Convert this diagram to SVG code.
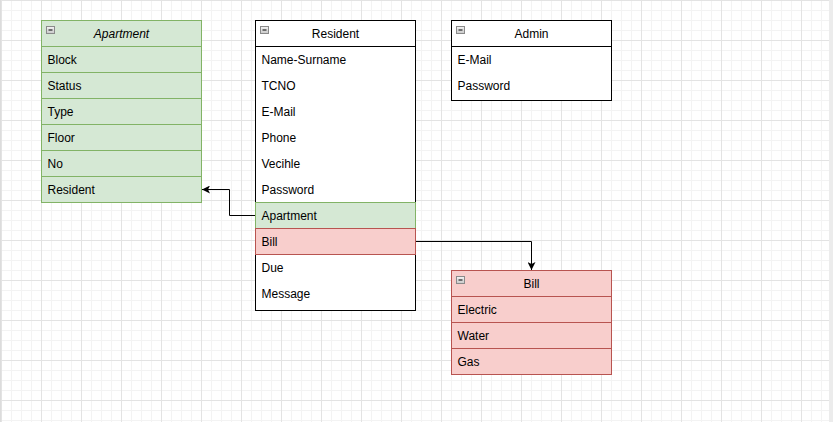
<svg xmlns="http://www.w3.org/2000/svg" width="833" height="422" viewBox="0 0 833 422">
<defs>
<pattern id="grid" patternUnits="userSpaceOnUse" x="1" y="0" width="40" height="40">
<path d="M0 10.5H40M0 20.5H40M0 30.5H40M10.5 0V40M20.5 0V40M30.5 0V40" stroke="#f3f3f3" stroke-width="1" fill="none"/>
<path d="M0 0.5H40M0.5 0V40" stroke="#e3e3e3" stroke-width="1" fill="none"/>
</pattern>
<linearGradient id="ig" x1="0" y1="0" x2="0" y2="1">
<stop offset="0" stop-color="#f4f4f4"/>
<stop offset="1" stop-color="#c8c8c8"/>
</linearGradient>
<marker id="arr" markerUnits="userSpaceOnUse" markerWidth="8" markerHeight="8" viewBox="0 0 8 8" refX="8" refY="4" orient="auto">
<path d="M0 0L8 4L0 8L2 4Z" fill="#000"/>
</marker>
<g id="icon">
<rect x="0.5" y="0.5" width="8" height="7" fill="url(#ig)" stroke="#8a8a8a"/>
<path d="M2.5 4H6.5" stroke="#222" stroke-width="1.2"/>
</g>
</defs>
<style>
text{font-family:"Liberation Sans",Arial,sans-serif;font-size:12px;fill:#000}
.h{text-anchor:middle}
.w{fill:#fff;stroke:#000;stroke-width:1}
.g{fill:#d5e8d4;stroke:#82b366;stroke-width:1}
.r{fill:#f8cecc;stroke:#b85450;stroke-width:1}
.c{fill:none;stroke:#000;stroke-width:1}
</style>
<rect width="833" height="422" fill="#fff"/>
<rect x="0" y="0" width="829" height="422" fill="url(#grid)"/>
<rect x="0" y="0" width="1" height="422" fill="#dcdcdc"/>
<rect x="829" y="0" width="4" height="422" fill="#ececec"/>

<g id="connectors">
<path class="c" d="M255.5 215.5H229.5V189.5H202" marker-end="url(#arr)"/>
<path class="c" d="M415.5 241.5H531.5V270" marker-end="url(#arr)"/>
</g>

<g id="apartment">
<rect class="g" x="41.5" y="20.5" width="160" height="182"/>
<rect class="g" x="41.5" y="46.5" width="160" height="26"/>
<rect class="g" x="41.5" y="72.5" width="160" height="26"/>
<rect class="g" x="41.5" y="98.5" width="160" height="26"/>
<rect class="g" x="41.5" y="124.5" width="160" height="26"/>
<rect class="g" x="41.5" y="150.5" width="160" height="26"/>
<rect class="g" x="41.5" y="176.5" width="160" height="26"/>
<use href="#icon" x="46" y="26"/>
<text class="h" x="121.5" y="37.5" font-style="italic">Apartment</text>
<text x="47.5" y="63.5">Block</text>
<text x="47.5" y="89.5">Status</text>
<text x="47.5" y="115.5">Type</text>
<text x="47.5" y="141.5">Floor</text>
<text x="47.5" y="167.5">No</text>
<text x="47.5" y="193.5">Resident</text>
</g>

<g id="resident">
<rect class="w" x="255.5" y="20.5" width="160" height="290"/>
<path d="M255.5 46.5H415.5" stroke="#000"/>
<rect class="g" x="255.5" y="202.5" width="160" height="26"/>
<rect class="r" x="255.5" y="228.5" width="160" height="26"/>
<use href="#icon" x="260" y="26"/>
<text class="h" x="335.5" y="37.5">Resident</text>
<text x="261.5" y="63.5">Name-Surname</text>
<text x="261.5" y="89.5">TCNO</text>
<text x="261.5" y="115.5">E-Mail</text>
<text x="261.5" y="141.5">Phone</text>
<text x="261.5" y="167.5">Vecihle</text>
<text x="261.5" y="193.5">Password</text>
<text x="261.5" y="219.5">Apartment</text>
<text x="261.5" y="245.5">Bill</text>
<text x="261.5" y="271.5">Due</text>
<text x="261.5" y="297.5">Message</text>
</g>

<g id="admin">
<rect class="w" x="451.5" y="20.5" width="160" height="80"/>
<path d="M451.5 46.5H611.5" stroke="#000"/>
<use href="#icon" x="456" y="26"/>
<text class="h" x="531.5" y="37.5">Admin</text>
<text x="457.5" y="63.5">E-Mail</text>
<text x="457.5" y="89.5">Password</text>
</g>

<g id="bill">
<rect class="r" x="451.5" y="270.5" width="160" height="104"/>
<rect class="r" x="451.5" y="296.5" width="160" height="26"/>
<rect class="r" x="451.5" y="322.5" width="160" height="26"/>
<rect class="r" x="451.5" y="348.5" width="160" height="26"/>
<use href="#icon" x="456" y="276"/>
<text class="h" x="531.5" y="287.5">Bill</text>
<text x="457.5" y="313.5">Electric</text>
<text x="457.5" y="339.5">Water</text>
<text x="457.5" y="365.5">Gas</text>
</g>
</svg>
